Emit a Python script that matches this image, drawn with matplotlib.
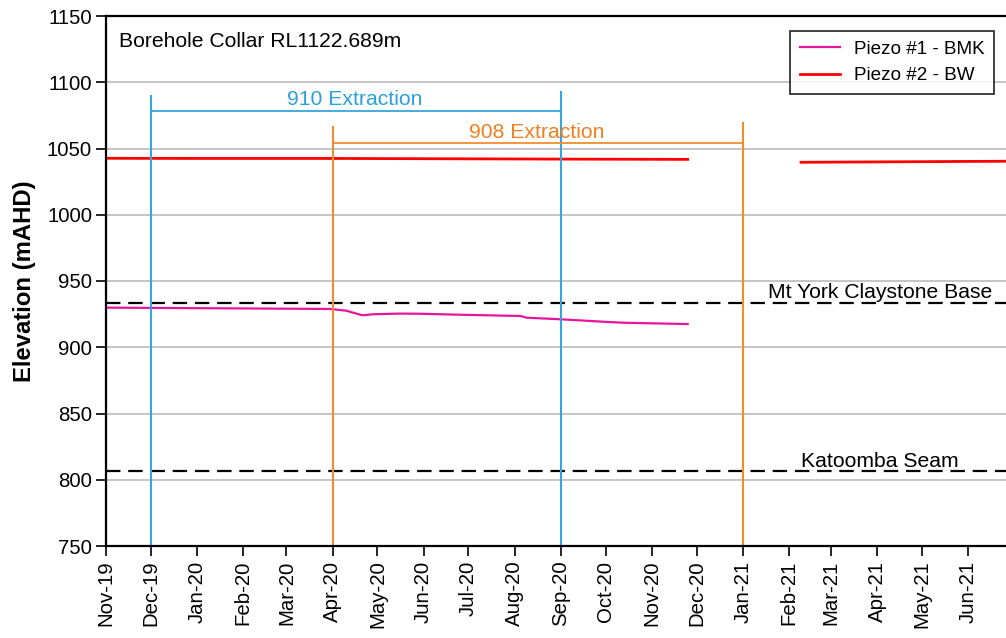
import numpy as np
import matplotlib
matplotlib.use("Agg")
import matplotlib.pyplot as plt
import matplotlib.dates as mdates

plt.rcParams['font.family'] = ['Liberation Sans', 'DejaVu Sans']

# Piezometer readings (date, elevation mAHD)
bmk_dates = ["2019-11-01", "2020-01-01", "2020-03-30", "2020-04-10", "2020-04-21",
             "2020-04-28", "2020-05-16", "2020-05-29", "2020-06-23", "2020-08-05",
             "2020-08-09", "2020-09-01", "2020-10-02", "2020-10-13", "2020-11-25"]
bmk_values = [929.9, 929.5, 928.9, 927.6, 924.1,
              924.9, 925.4, 925.3, 924.6, 923.6,
              922.3, 921.1, 919.1, 918.5, 917.5]

bw_dates = ["2019-11-01", "2020-01-01", "2020-04-01", "2020-07-01", "2020-09-01",
            "2020-11-25", "2021-02-09", "2021-04-01", "2021-07-01"]
bw_values = [1042.6, 1042.5, 1042.5, 1042.2, 1042.0,
             1041.8, 1039.6, 1039.9, 1040.4]
bw_gap_after = "2020-11-25"

# Extraction periods: start, end, bracket level, left/right tick tops
extr_names = ["910 Extraction", "908 Extraction"]
extr_start = ["2019-12-01", "2020-04-01"]
extr_end = ["2020-09-01", "2021-01-01"]
extr_level = [1078.3, 1054.0]
extr_top_left = [1090.0, 1066.5]
extr_top_right = [1092.5, 1069.0]
extr_line_colors = ["#36A5DD", "#F28C2E"]
extr_text_colors = ["#2AA0DC", "#EF7F22"]

# Geological reference horizons
horizon_names = ["Mt York Claystone Base", "Katoomba Seam"]
horizon_levels = [933.6, 806.6]
horizon_label_date = "2021-04-03"

collar_text = "Borehole Collar RL1122.689m"
series_labels = ["Piezo #1 - BMK", "Piezo #2 - BW"]

x_start, x_end = np.datetime64("2019-11-01"), np.datetime64("2021-07-01")
tick_months = np.arange(np.datetime64("2019-11"), np.datetime64("2021-07"),
                        np.timedelta64(1, "M")).astype("datetime64[D]")
y_ticks = np.arange(750, 1151, 50)

fig = plt.figure(figsize=(10.06, 6.38), dpi=100)
ax = fig.add_axes([106 / 1006, 92 / 638, 906.8 / 1006, 530 / 638])

ax.set_xlim(x_start, x_end)
ax.set_ylim(750, 1150)
ax.set_yticks(y_ticks)
ax.set_xticks(tick_months)
ax.xaxis.set_major_formatter(mdates.DateFormatter("%b-%y"))
for lab in ax.get_xticklabels():
    lab.set_rotation(90)
ax.tick_params(axis="both", labelsize=14.7, length=7, width=1.2, direction="out",
               colors="black")
ax.tick_params(axis="y", pad=3)
ax.grid(axis="y", color="#C0C0C0", linewidth=1.3)
ax.set_axisbelow(True)
for side in ["left", "top", "bottom"]:
    ax.spines[side].set_linewidth(1.6)
ax.spines["right"].set_visible(False)
ax.set_ylabel("Elevation (mAHD)", fontsize=17.2, fontweight="bold", labelpad=8)

# Series
bmk_x = np.array(bmk_dates, dtype="datetime64[D]")
ax.plot(bmk_x, bmk_values, color="#E6169A", linewidth=1.6, label=series_labels[0])

bw_x = np.array(bw_dates, dtype="datetime64[D]")
bw_y = np.array(bw_values, dtype=float)
split = int(np.where(bw_x == np.datetime64(bw_gap_after))[0][0]) + 1
ax.plot(bw_x[:split], bw_y[:split], color="#FF0000", linewidth=2.0, label=series_labels[1])
ax.plot(bw_x[split:], bw_y[split:], color="#FF0000", linewidth=2.0)

# Horizons
for name, lvl in zip(horizon_names, horizon_levels):
    ax.axhline(lvl, color="black", linestyle=(0, (6.5, 3.5)), linewidth=1.6)
    ax.text(np.datetime64(horizon_label_date), lvl + 0.3, name, ha="center",
            va="bottom", fontsize=15.2)

# Extraction brackets
for name, s, e, lvl, tl, tr, lc, tc in zip(extr_names, extr_start, extr_end, extr_level,
                                          extr_top_left, extr_top_right,
                                          extr_line_colors, extr_text_colors):
    s, e = np.datetime64(s), np.datetime64(e)
    ax.plot([s, s], [750, tl], color=lc, linewidth=1.5, clip_on=False)
    ax.plot([e, e], [750, tr], color=lc, linewidth=1.5, clip_on=False)
    ax.plot([s, e], [lvl, lvl], color=lc, linewidth=1.3)
    mid = s + (e - s) / 2
    ax.text(mid, lvl + 1.2, name, ha="center", va="bottom", fontsize=15.2, color=tc)

ax.text(0.0143, 0.951, collar_text, transform=ax.transAxes, ha="left", va="center",
        fontsize=15.2)

leg = ax.legend(loc="upper right", bbox_to_anchor=(0.979, 0.972), fontsize=13.6,
                frameon=True, fancybox=False, edgecolor="black", handlelength=2.1,
                borderpad=0.5, labelspacing=0.5, handletextpad=0.75,
                borderaxespad=0)
leg.get_frame().set_linewidth(1.3)

fig.savefig("out.png", dpi=100)
